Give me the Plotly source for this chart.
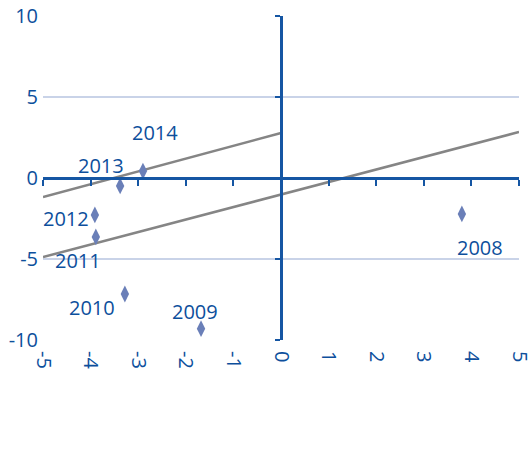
import plotly.graph_objects as go

# Data
years = ["2008", "2009", "2010", "2011", "2012", "2013", "2014"]
x_vals = [3.80, -1.68, -3.28, -3.89, -3.91, -3.38, -2.90]
y_vals = [-2.22, -9.30, -7.16, -3.64, -2.28, -0.49, 0.43]

line_upper_x = [-5, 0]
line_upper_y = [-1.17, 2.78]
line_lower_x = [-5, 5]
line_lower_y = [-4.88, 2.84]

x_ticks = [-5, -4, -3, -2, -1, 0, 1, 2, 3, 4, 5]
y_ticks = [-10, -5, 0, 5, 10]
x_tick_labels = [str(t) for t in x_ticks]
y_tick_labels = [str(t) for t in y_ticks]

# label offsets (px)
label_shift = {
    "2014": (12, 39), "2013": (-19, 20), "2012": (-29, -4), "2011": (-18, -24),
    "2010": (-33, -14), "2009": (-6, 17), "2008": (18, -34),
}

BLUE = "#0d4f9c"
AXIS = "#1556a3"
GRID = "#c9d3e8"
MARK = "#6a7fb8"
GRAY = "#858585"
FONT = "Open Sans"
FS = 20

fig = go.Figure()

fig.add_trace(go.Scatter(x=line_upper_x, y=line_upper_y, mode="lines",
                         line=dict(color=GRAY, width=2.5), hoverinfo="skip"))
fig.add_trace(go.Scatter(x=line_lower_x, y=line_lower_y, mode="lines",
                         line=dict(color=GRAY, width=2.5), hoverinfo="skip"))
fig.add_trace(go.Scatter(x=x_vals, y=y_vals, mode="markers",
                         marker=dict(symbol="diamond-tall", size=12, color=MARK),
                         text=years))
# invisible trace on crossing axes so they render
fig.add_trace(go.Scatter(x=[0], y=[0], xaxis="x2", yaxis="y2", mode="markers",
                         marker=dict(opacity=0), hoverinfo="skip"))

for yr, xv, yv in zip(years, x_vals, y_vals):
    dx, dy = label_shift[yr]
    fig.add_annotation(x=xv, y=yv, text=yr, showarrow=False, xshift=dx, yshift=dy,
                       font=dict(family=FONT, size=FS, color=BLUE))

fig.update_layout(
    width=529, height=450,
    margin=dict(l=43, r=10, t=16, b=110),
    paper_bgcolor="white", plot_bgcolor="white",
    showlegend=False,
    font=dict(family=FONT, size=FS, color=BLUE),
    xaxis=dict(range=[-5, 5], tickvals=x_ticks, ticktext=x_tick_labels,
               tickangle=90, showgrid=False, zeroline=False, showline=False,
               ticks="", tickfont=dict(size=FS, color=BLUE), automargin=False,
               ticklabelstandoff=10, ticklabeloverflow="allow"),
    yaxis=dict(range=[-10, 10], tickvals=y_ticks, ticktext=y_tick_labels,
               showgrid=True, gridcolor=GRID,
               gridwidth=1.5, zeroline=False, showline=False, ticks="",
               tickfont=dict(size=FS, color=BLUE), ticklabelstandoff=4,
               automargin=False, ticklabeloverflow="allow"),
    xaxis2=dict(range=[-5, 5], overlaying="x", anchor="free", position=0.5,
                tickvals=x_ticks, showticklabels=False, showgrid=False, zeroline=False,
                showline=True, linecolor=AXIS, linewidth=2.5, ticks="outside",
                ticklen=6, tickwidth=1.5, tickcolor=AXIS, automargin=False),
    yaxis2=dict(range=[-10, 10], overlaying="y", anchor="free", position=0.5, side="left",
                tickvals=y_ticks, showticklabels=False, showgrid=False, zeroline=False,
                showline=True, linecolor=AXIS, linewidth=2.5, ticks="outside",
                ticklen=5, tickwidth=1.5, tickcolor=AXIS, automargin=False),
)

fig.write_html("out.html", config={"displayModeBar": False},
               post_script="document.body.style.margin='0';")
